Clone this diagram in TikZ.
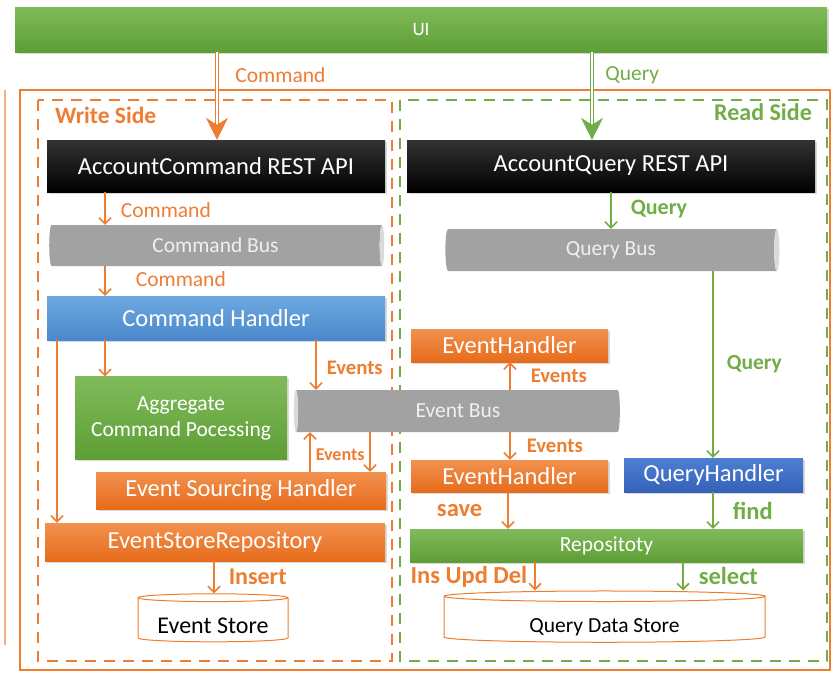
\documentclass[tikz,border=0pt]{standalone}
\usepackage{fontspec}
\setmainfont{Carlito}
\usetikzlibrary{arrows.meta,shapes.geometric,shadows}

\definecolor{orng}{HTML}{ED7D31}
\definecolor{orngpale}{HTML}{F4B183}
\definecolor{orngtop}{HTML}{F2914F}
\definecolor{orngbot}{HTML}{E66C1B}
\definecolor{grn}{HTML}{70AD47}
\definecolor{grntop}{HTML}{80BB5B}
\definecolor{grnbot}{HTML}{5E9E35}
\definecolor{blutop}{HTML}{6DA9E0}
\definecolor{blubot}{HTML}{4A88CC}
\definecolor{qblutop}{HTML}{4E7FD3}
\definecolor{qblubot}{HTML}{3562B8}
\definecolor{busgray}{HTML}{A2A2A2}
\definecolor{busend}{HTML}{DADADA}

\newcommand\bigtxt{\fontsize{24.5}{27}\selectfont}
\newcommand\midtxt{\fontsize{21.5}{26}\selectfont}
\newcommand\evtxt{\fontsize{20.7}{23}\selectfont}
\newcommand\tinytxt{\fontsize{18}{20}\selectfont}

\begin{document}
\begin{tikzpicture}[x=1pt, y=-1pt,
  box/.style={rectangle, inner sep=0pt, text=white, font=\bigtxt,
    drop shadow={shadow xshift=1.5pt, shadow yshift=-1.5pt, opacity=.3}},
  apibox/.style={box, top color=black!80, bottom color=black},
  obox/.style={box, top color=orngtop, bottom color=orngbot},
  gbox/.style={box, top color=grntop, bottom color=grnbot},
  bbox/.style={box, top color=blutop, bottom color=blubot},
  qbox/.style={box, top color=qblutop, bottom color=qblubot},
  bus/.style={cylinder, shape aspect=.3, inner sep=0pt, text=white!94!black, font=\midtxt,
    cylinder uses custom fill, cylinder body fill=busgray, cylinder end fill=busend},
  store/.style={cylinder, shape border rotate=90, shape aspect=.07, inner sep=0pt,
    draw=orng, line width=1pt, fill=white, text=black},
  oarr/.style={draw=orng, line width=1.6pt, -{Straight Barb[length=6pt,width=12pt]}},
  garr/.style={draw=grn, line width=1.6pt, -{Straight Barb[length=6pt,width=12pt]}},
  dbl/.style={line width=.8pt, double=white, double distance=2pt,
    -{Stealth[length=22pt,width=22pt,inset=7pt]}},
  lbl/.style={inner sep=0pt, font=\midtxt},
  olbl/.style={lbl, text=orng},
  glbl/.style={lbl, text=grn},
  side/.style={dash pattern=on 11pt off 8pt, line width=2.6pt}
]
  \useasboundingbox (0,0) rectangle (835,675);

  % frames
  \draw[orngpale, line width=1.2pt] (5,90) -- (5,645);
  \draw[orng, line width=1.2pt] (20,90) rectangle (830,670);
  \draw[orng, side] (38,100) rectangle (392,661);
  \draw[grn, side] (400,100) rectangle (827,661);
  \node[olbl, font=\bfseries\fontsize{23.5}{26}\selectfont, anchor=west] (wside) at (55,115) {Write Side};
  \node[glbl, font=\bfseries\fontsize{24}{26}\selectfont, anchor=east] (rside) at (812,112) {Read Side};

  \node[gbox, minimum width=812pt, minimum height=45pt, font=\fontsize{19}{22}\selectfont] (ui) at (421,29.5) {UI};

  % write side
  \node[apibox, minimum width=338pt, minimum height=52pt] (cmdapi) at (216,166) {AccountCommand REST API};
  \node[bus, minimum height=335pt, minimum width=41pt] (cmdbus) at (215.5,245.5) {Command Bus};
  \node[bbox, minimum width=338pt, minimum height=44pt] (cmdhdl) at (216,318) {Command Handler};
  \node[gbox, minimum width=212pt, minimum height=83pt, align=center, font=\midtxt] (aggr) at (181,418) {Aggregate\\Command Pocessing};
  \node[bus, shape border rotate=180, minimum height=326pt, minimum width=42pt] (evbus) at (458,411) {Event Bus};
  \node[obox, minimum width=290pt, minimum height=37pt] (eshdl) at (241,490.5) {Event Sourcing Handler};
  \node[obox, minimum width=340pt, minimum height=38pt] (esrepo) at (215,542) {EventStoreRepository};
  \node[store, minimum height=48pt, minimum width=150pt, text height=26pt, text depth=0pt,
    font=\fontsize{24}{27}\selectfont] (evstore) at (213,620) {Event Store};

  % read side
  \node[apibox, minimum width=408pt, minimum height=52pt] (qryapi) at (611,166) {AccountQuery REST API};
  \node[bus, minimum height=334pt, minimum width=42pt] (qrybus) at (611,250) {Query Bus};
  \node[obox, minimum width=197pt, minimum height=33pt] (evhdl1) at (509.5,345.5) {EventHandler};
  \node[obox, minimum width=197pt, minimum height=32pt] (evhdl2) at (509.5,476) {EventHandler};
  \node[qbox, minimum width=179pt, minimum height=34pt] (qryhdl) at (713.5,475) {QueryHandler};
  \node[gbox, minimum width=393pt, minimum height=33pt, font=\midtxt] (repo) at (606.5,545.5) {Repositoty};
  \node[store, minimum height=47pt, minimum width=321pt, text height=30pt, text depth=5pt,
    font=\midtxt] (qstore) at (604.5,619.5) {Query Data Store};

  % UI to the two APIs
  \draw[dbl, orng] (ui.south -| 217,0) -- node[olbl, anchor=west, xshift=18pt, pos=.26] {Command} (cmdapi.north -| 217,0);
  \draw[dbl, grn] (ui.south -| 592,0) -- node[glbl, anchor=west, xshift=13pt, pos=.26] {Query} (qryapi.north -| 592,0);

  % command flow
  \draw[oarr] (cmdapi.south -| 105,0) -- node[olbl, anchor=west, xshift=15pt, pos=.55] {Command} (cmdbus.north -| 105,0);
  \draw[oarr] (cmdbus.south -| 105,0) -- node[olbl, anchor=west, xshift=30pt, pos=.43] {Command} (cmdhdl.north -| 105,0);
  \draw[oarr] (cmdhdl.south -| 105,0) -- (aggr.north -| 105,0);
  \draw[oarr] (cmdhdl.south -| 57,0) -- (esrepo.north -| 57,0);
  \draw[oarr] (cmdhdl.south -| 316,0) -- node[olbl, font=\bfseries\evtxt, anchor=west, xshift=10pt, pos=.56] {Events} (evbus.north -| 316,0);
  \draw[oarr] (eshdl.north -| 310,0) -- node[olbl, font=\bfseries\tinytxt, anchor=west, xshift=5pt, pos=.42] {Events} (evbus.south -| 310,0);
  \draw[oarr] (evbus.south -| 370,0) -- (eshdl.north -| 370,0);
  \draw[oarr] (esrepo.south -| 214,0) -- node[olbl, font=\bfseries\fontsize{24}{26}\selectfont, anchor=west, xshift=14pt, pos=.49] {Insert} (evstore.north -| 214,0);

  % query flow
  \draw[garr] (qryapi.south -| 611,0) -- node[glbl, font=\bfseries\fontsize{22}{24}\selectfont, anchor=west, xshift=19pt, pos=.46] {Query} (qrybus.north -| 611,0);
  \draw[garr] (qrybus.south -| 713,0) -- node[glbl, font=\bfseries\midtxt, anchor=west, xshift=13pt] {Query} (qryhdl.north -| 713,0);
  \draw[oarr] (evbus.north -| 510,0) -- node[olbl, font=\bfseries\evtxt, anchor=west, xshift=20pt] {Events} (evhdl1.south -| 510,0);
  \draw[oarr] (evbus.south -| 510,0) -- node[olbl, font=\bfseries\evtxt, anchor=west, xshift=16pt] {Events} (evhdl2.north -| 510,0);
  \draw[oarr] (evhdl2.south -| 508,0) -- node[olbl, font=\bfseries\bigtxt, anchor=east, xshift=-25pt] {save} (repo.north -| 508,0);
  \draw[garr] (qryhdl.south -| 713,0) -- node[glbl, font=\bfseries\bigtxt, anchor=west, xshift=19pt] {find} (repo.north -| 713,0);
  \draw[oarr] (repo.south -| 535,0) -- node[olbl, font=\bfseries\bigtxt, anchor=east, xshift=-7pt] {Ins Upd Del} (qstore.north -| 535,0);
  \draw[garr] (repo.south -| 683,0) -- node[glbl, font=\bfseries\bigtxt, anchor=west, xshift=15pt] {select} (qstore.north -| 683,0);
\end{tikzpicture}
\end{document}
